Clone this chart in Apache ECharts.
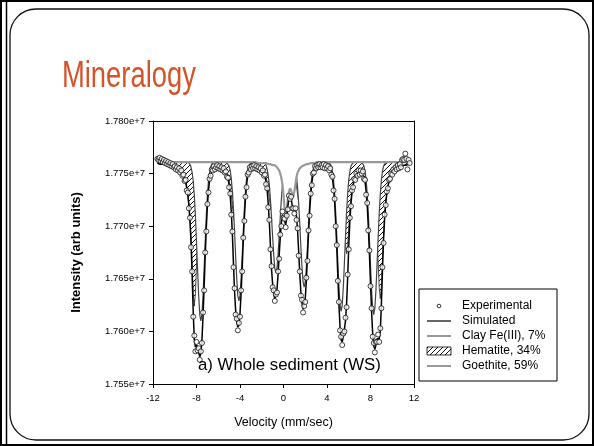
<!DOCTYPE html>
<html>
<head>
<meta charset="utf-8">
<script src="https://cdn.jsdelivr.net/npm/echarts@6/dist/echarts.min.js"></script>
<style>
  html, body { margin: 0; padding: 0; background: #fff; }
  #chart { width: 594px; height: 446px; }
</style>
</head>
<body>
<div id="chart"></div>
<script>
// Mossbauer spectrum of the whole sediment: velocity channels (mm/s)
const velocity = [
  -11.6,-11.5,-11.4,-11.3,-11.2,-11.1,-11,-10.9,-10.8,-10.7,
  -10.6,-10.5,-10.4,-10.3,-10.2,-10.1,-10,-9.9,-9.8,-9.7,
  -9.6,-9.5,-9.4,-9.3,-9.2,-9.1,-9,-8.9,-8.8,-8.7,
  -8.6,-8.5,-8.4,-8.3,-8.2,-8.1,-8,-7.9,-7.8,-7.7,
  -7.6,-7.5,-7.4,-7.3,-7.2,-7.1,-7,-6.9,-6.8,-6.7,
  -6.6,-6.5,-6.4,-6.3,-6.2,-6.1,-6,-5.9,-5.8,-5.7,
  -5.6,-5.5,-5.4,-5.3,-5.2,-5.1,-5,-4.9,-4.8,-4.7,
  -4.6,-4.5,-4.4,-4.3,-4.2,-4.1,-4,-3.9,-3.8,-3.7,
  -3.6,-3.5,-3.4,-3.3,-3.2,-3.1,-3,-2.9,-2.8,-2.7,
  -2.6,-2.5,-2.4,-2.3,-2.2,-2.1,-2,-1.9,-1.8,-1.7,
  -1.6,-1.5,-1.4,-1.3,-1.2,-1.1,-1,-0.9,-0.8,-0.7,
  -0.6,-0.5,-0.4,-0.3,-0.2,-0.1,0,0.1,0.2,0.3,
  0.4,0.5,0.6,0.7,0.8,0.9,1,1.1,1.2,1.3,
  1.4,1.5,1.6,1.7,1.8,1.9,2,2.1,2.2,2.3,
  2.4,2.5,2.6,2.7,2.8,2.9,3,3.1,3.2,3.3,
  3.4,3.5,3.6,3.7,3.8,3.9,4,4.1,4.2,4.3,
  4.4,4.5,4.6,4.7,4.8,4.9,5,5.1,5.2,5.3,
  5.4,5.5,5.6,5.7,5.8,5.9,6,6.1,6.2,6.3,
  6.4,6.5,6.6,6.7,6.8,6.9,7,7.1,7.2,7.3,
  7.4,7.5,7.6,7.7,7.8,7.9,8,8.1,8.2,8.3,
  8.4,8.5,8.6,8.7,8.8,8.9,9,9.1,9.2,9.3,
  9.4,9.5,9.6,9.7,9.8,9.9,10,10.1,10.2,10.3,
  10.4,10.5,10.6,10.7,10.8,10.9,11,11.1,11.2,11.3,
  11.4,11.5,11.6
];

// Intensities in thousands of counts (17761 = 1.7761e+7)
const experimental = [
  17764,17763,17765,17762,17764,17761,17763,17760,17762,17759,
  17761,17758,17760,17757,17759,17756,17757,17754,17756,17753,
  17755,17751,17753,17748,17749,17743,17744,17734,17732,17717,
  17708,17680,17657,17614,17596,17581,17590,17582,17584,17573,
  17581,17589,17618,17639,17675,17695,17721,17732,17745,17748,
  17754,17753,17757,17754,17756,17758,17755,17757,17754,17756,
  17753,17755,17751,17752,17747,17746,17737,17731,17711,17695,
  17661,17641,17616,17612,17601,17608,17614,17639,17657,17689,
  17705,17728,17737,17749,17751,17756,17754,17757,17755,17758,
  17755,17757,17754,17756,17753,17755,17751,17753,17748,17749,
  17740,17736,17718,17706,17678,17662,17642,17639,17629,17635,
  17637,17657,17669,17692,17700,17714,17708,17707,17699,17710,
  17716,17729,17726,17728,17717,17717,17712,17717,17706,17698,
  17672,17657,17634,17630,17618,17624,17628,17651,17667,17696,
  17710,17731,17739,17750,17751,17757,17755,17758,17756,17759,
  17756,17758,17756,17759,17755,17758,17755,17757,17753,17755,
  17749,17747,17734,17726,17700,17682,17648,17628,17601,17595,
  17587,17598,17600,17613,17623,17654,17678,17708,17719,17734,
  17737,17745,17744,17750,17748,17753,17749,17753,17750,17752,
  17745,17744,17730,17722,17696,17677,17643,17622,17595,17589,
  17580,17590,17590,17597,17590,17603,17622,17661,17684,17711,
  17720,17733,17736,17744,17745,17750,17749,17754,17752,17756,
  17754,17758,17755,17759,17756,17763,17764,17763,17769,17764,
  17754,17763,17760
];

const simulated = [
  17760,17759,17759,17759,17759,17759,17759,17759,17759,17759,
  17758,17758,17758,17758,17757,17757,17756,17756,17755,17755,
  17754,17753,17752,17750,17748,17745,17742,17737,17730,17720,
  17705,17684,17653,17618,17592,17585,17587,17585,17580,17576,
  17579,17592,17614,17642,17672,17698,17719,17734,17743,17749,
  17752,17754,17755,17755,17755,17756,17756,17755,17755,17755,
  17754,17754,17753,17751,17749,17745,17739,17729,17714,17692,
  17664,17638,17620,17609,17604,17606,17617,17636,17660,17686,
  17708,17726,17739,17747,17752,17755,17755,17756,17756,17756,
  17756,17756,17756,17755,17755,17754,17753,17752,17750,17747,
  17742,17734,17721,17703,17681,17659,17645,17636,17631,17632,
  17640,17654,17672,17689,17703,17711,17711,17705,17701,17708,
  17719,17727,17729,17726,17720,17715,17715,17715,17709,17695,
  17675,17654,17637,17627,17621,17622,17631,17648,17670,17693,
  17713,17729,17741,17748,17752,17755,17756,17757,17757,17757,
  17757,17757,17757,17757,17757,17757,17756,17756,17755,17754,
  17751,17745,17737,17723,17703,17679,17651,17625,17604,17592,
  17590,17595,17602,17610,17626,17651,17681,17705,17721,17732,
  17739,17743,17746,17748,17750,17751,17751,17751,17751,17750,
  17747,17742,17733,17719,17699,17674,17646,17619,17598,17586,
  17583,17587,17593,17594,17593,17600,17625,17658,17687,17708,
  17722,17731,17738,17742,17746,17748,17750,17752,17753,17754,
  17755,17755,17756,17756,17757,17757,17758,17758,17758,17758,
  17758,17759,17759
];

const clayFe = [
  17761,17761,17761,17761,17761,17761,17761,17761,17761,17761,
  17761,17761,17761,17761,17761,17761,17761,17761,17761,17761,
  17761,17761,17761,17761,17761,17761,17761,17761,17761,17761,
  17761,17761,17761,17761,17761,17761,17761,17761,17761,17761,
  17761,17761,17761,17761,17761,17761,17761,17761,17761,17761,
  17761,17761,17761,17761,17761,17761,17761,17761,17761,17761,
  17761,17761,17761,17761,17761,17761,17761,17761,17761,17761,
  17761,17761,17761,17761,17761,17761,17761,17761,17761,17761,
  17761,17761,17761,17761,17761,17761,17761,17761,17761,17761,
  17761,17760,17760,17760,17760,17760,17760,17760,17760,17760,
  17760,17760,17759,17759,17759,17759,17758,17758,17758,17757,
  17756,17755,17753,17750,17746,17740,17730,17717,17710,17715,
  17726,17733,17736,17734,17730,17728,17733,17740,17747,17751,
  17753,17755,17756,17757,17758,17758,17759,17759,17759,17759,
  17760,17760,17760,17760,17760,17760,17760,17761,17761,17761,
  17761,17761,17761,17761,17761,17761,17761,17761,17761,17761,
  17761,17761,17761,17761,17761,17761,17761,17761,17761,17761,
  17761,17761,17761,17761,17761,17761,17761,17761,17761,17761,
  17761,17761,17761,17761,17761,17761,17761,17761,17761,17761,
  17761,17761,17761,17761,17761,17761,17761,17761,17761,17761,
  17761,17761,17761,17761,17761,17761,17761,17761,17761,17761,
  17761,17761,17761,17761,17761,17761,17761,17761,17761,17761,
  17761,17761,17761,17761,17761,17761,17761,17761,17761,17761,
  17761,17761,17761
];

const hematite = [
  17760,17759,17759,17759,17759,17759,17759,17759,17759,17759,
  17758,17758,17758,17758,17757,17757,17756,17756,17755,17755,
  17754,17753,17752,17750,17748,17745,17742,17737,17730,17721,
  17707,17688,17663,17636,17624,17636,17663,17688,17707,17721,
  17730,17737,17741,17745,17747,17749,17751,17752,17753,17754,
  17754,17755,17755,17755,17755,17756,17756,17755,17755,17755,
  17754,17754,17753,17751,17750,17747,17743,17738,17730,17720,
  17709,17704,17709,17720,17730,17738,17743,17747,17750,17752,
  17753,17754,17755,17755,17756,17756,17756,17757,17757,17757,
  17757,17756,17756,17756,17755,17755,17754,17753,17751,17749,
  17746,17742,17735,17727,17718,17714,17718,17727,17735,17742,
  17746,17749,17751,17753,17754,17754,17755,17755,17755,17755,
  17755,17755,17754,17753,17752,17750,17747,17743,17738,17730,
  17723,17719,17723,17730,17738,17744,17748,17750,17752,17754,
  17755,17756,17756,17757,17757,17757,17757,17757,17758,17758,
  17758,17758,17757,17757,17757,17757,17757,17757,17756,17756,
  17755,17755,17754,17753,17752,17750,17748,17745,17741,17735,
  17726,17714,17698,17682,17674,17682,17698,17714,17726,17734,
  17740,17744,17746,17748,17750,17751,17751,17752,17752,17752,
  17752,17751,17751,17750,17748,17747,17744,17741,17737,17731,
  17722,17709,17691,17667,17642,17631,17642,17667,17691,17710,
  17722,17731,17738,17742,17746,17748,17750,17752,17753,17754,
  17755,17755,17756,17756,17757,17757,17758,17758,17758,17758,
  17758,17759,17759
];

const goethite = [
  17761,17761,17761,17761,17761,17761,17761,17761,17761,17761,
  17761,17761,17761,17761,17761,17761,17761,17761,17761,17761,
  17761,17761,17761,17761,17761,17761,17761,17761,17761,17760,
  17759,17756,17751,17743,17729,17710,17685,17659,17634,17616,
  17610,17616,17634,17659,17685,17710,17729,17743,17751,17756,
  17759,17760,17761,17761,17761,17761,17761,17761,17761,17761,
  17761,17761,17761,17761,17760,17759,17757,17753,17745,17733,
  17716,17695,17671,17650,17634,17629,17634,17650,17671,17695,
  17716,17733,17745,17753,17757,17759,17760,17761,17761,17761,
  17761,17761,17761,17761,17761,17761,17761,17761,17760,17760,
  17758,17754,17748,17739,17725,17708,17690,17673,17660,17656,
  17660,17673,17690,17708,17725,17739,17748,17754,17758,17760,
  17760,17761,17761,17761,17760,17759,17757,17753,17747,17736,
  17721,17701,17680,17661,17647,17642,17647,17661,17680,17701,
  17721,17736,17747,17753,17757,17759,17760,17761,17761,17761,
  17761,17761,17761,17761,17761,17761,17761,17761,17760,17759,
  17757,17752,17744,17731,17713,17690,17665,17642,17625,17619,
  17625,17642,17665,17690,17713,17731,17744,17752,17757,17759,
  17760,17761,17761,17761,17761,17761,17761,17761,17760,17759,
  17757,17752,17744,17730,17712,17688,17663,17639,17622,17616,
  17622,17639,17663,17688,17712,17730,17744,17752,17757,17759,
  17760,17761,17761,17761,17761,17761,17761,17761,17761,17761,
  17761,17761,17761,17761,17761,17761,17761,17761,17761,17761,
  17761,17761,17761
];

const legendLabels = ['Experimental', 'Simulated', 'Clay Fe(III), 7%', 'Hematite, 34%', 'Goethite, 59%'];
const FONT = "'Liberation Sans', Arial, Helvetica, sans-serif";

function pairs(values) {
  return velocity.map((v, i) => [v, values[i]]);
}

// diagonal hatch tile used for the hematite area
function hatchTile() {
  const s = 5;
  const c = document.createElement('canvas');
  c.width = s; c.height = s;
  const g = c.getContext('2d');
  g.strokeStyle = '#111';
  g.lineWidth = 1;
  g.beginPath();
  g.moveTo(-1, s + 1); g.lineTo(s + 1, -1);
  g.moveTo(-1, 1); g.lineTo(1, -1);
  g.moveTo(s - 1, s + 1); g.lineTo(s + 1, s - 1);
  g.stroke();
  return c;
}
const hatch = { image: hatchTile(), repeat: 'repeat' };

const chart = echarts.init(document.getElementById('chart'), null, { renderer: 'canvas' });

const legendX = 427, legendTextX = 462;
const rowY = [306, 321, 336, 351, 366];

chart.setOption({
  animation: false,
  backgroundColor: '#fff',
  grid: { left: 153, right: 180, top: 121, bottom: 62, containLabel: false },
  xAxis: [{
    type: 'value', min: -12, max: 12, interval: 4, z: 10,
    name: 'Velocity (mm/sec)', nameLocation: 'middle', nameGap: 32,
    nameTextStyle: { fontFamily: FONT, fontSize: 12.5, color: '#000' },
    axisLine: { onZero: false, lineStyle: { color: '#000', width: 1 } },
    axisTick: { length: 4, lineStyle: { color: '#000' } },
    axisLabel: { fontFamily: FONT, fontSize: 9.5, color: '#000', margin: 9 },
    splitLine: { show: false }
  }, {
    type: 'value', min: -12, max: 12, position: 'top', z: 10,
    axisLine: { onZero: false, lineStyle: { color: '#000', width: 1 } },
    axisTick: { show: false }, axisLabel: { show: false }, splitLine: { show: false }
  }],
  yAxis: [{
    type: 'value', min: 17550, max: 17800, interval: 50, z: 10, position: 'left',
    name: 'Intensity (arb units)', nameLocation: 'middle', nameGap: 70, nameRotate: 90,
    nameTextStyle: { fontFamily: FONT, fontSize: 13, fontWeight: 'bold', color: '#000' },
    axisLine: { show: true, onZero: false, lineStyle: { color: '#000', width: 1 } },
    axisTick: { show: true, length: 4, lineStyle: { color: '#000' } },
    axisLabel: {
      fontFamily: FONT, fontSize: 9.5, color: '#000', margin: 8,
      formatter: v => (v / 10000).toFixed(3) + 'e+7'
    },
    splitLine: { show: false }
  }, {
    type: 'value', min: 17550, max: 17800, position: 'right', z: 10,
    axisLine: { show: true, onZero: false, lineStyle: { color: '#000', width: 1 } },
    axisTick: { show: false }, axisLabel: { show: false }, splitLine: { show: false }
  }],
  series: [
    {
      name: legendLabels[3], type: 'line', data: pairs(hematite), z: 2,
      symbol: 'none', lineStyle: { color: '#333', width: 0.9 },
      areaStyle: { origin: 'end', color: hatch, opacity: 1 }
    },
    {
      name: legendLabels[4], type: 'line', data: pairs(goethite), z: 3,
      symbol: 'none', lineStyle: { color: '#444', width: 1.2 },
      areaStyle: { origin: 'end', color: '#fff', opacity: 1 }
    },
    {
      name: legendLabels[2], type: 'line', data: pairs(clayFe), z: 4,
      symbol: 'none', lineStyle: { color: '#999', width: 2.2 },
      areaStyle: { origin: 'end', color: '#fff', opacity: 1 }
    },
    {
      name: legendLabels[1], type: 'line', data: pairs(simulated), z: 5,
      symbol: 'none', lineStyle: { color: '#000', width: 1.5 }
    },
    {
      name: legendLabels[0], type: 'scatter', data: pairs(experimental), z: 6,
      symbol: 'circle', symbolSize: 5,
      itemStyle: { color: '#fff', borderColor: '#111', borderWidth: 1 }
    }
  ],
  graphic: [
    // slide frame
    { type: 'rect', z: 1, shape: { x: 1, y: 1, width: 592, height: 444 },
      style: { fill: 'none', stroke: '#000', lineWidth: 2 } },
    { type: 'line', z: 1, shape: { x1: 6.5, y1: 0, x2: 6.5, y2: 446 },
      style: { stroke: '#000', lineWidth: 1.5 } },
    { type: 'rect', z: 1, shape: { x: 10, y: 9, width: 579, height: 431, r: 26 },
      style: { fill: 'none', stroke: '#111', lineWidth: 1.3 } },
    // slide title
    { type: 'text', z: 20, x: 62, y: 59, scaleX: 0.76,
      style: { text: 'Mineralogy', x: 0, y: 0, font: '36px ' + FONT, fill: '#d4542a',
               align: 'left', verticalAlign: 'top' } },
    // panel caption
    { type: 'text', z: 20, x: 198, y: 357,
      style: { text: 'a) Whole sediment (WS)', x: 0, y: 0, font: '16.8px ' + FONT, fill: '#000',
               align: 'left', verticalAlign: 'top' } },
    // legend box
    { type: 'rect', z: 20, shape: { x: 419, y: 289, width: 138, height: 92 },
      style: { fill: '#fff', stroke: '#000', lineWidth: 1 } },
    { type: 'circle', z: 21, shape: { cx: 439, cy: rowY[0], r: 1.8 },
      style: { fill: '#fff', stroke: '#222', lineWidth: 0.9 } },
    { type: 'line', z: 21, shape: { x1: legendX, y1: rowY[1], x2: 451, y2: rowY[1] },
      style: { stroke: '#000', lineWidth: 1.2 } },
    { type: 'line', z: 21, shape: { x1: legendX, y1: rowY[2], x2: 451, y2: rowY[2] },
      style: { stroke: '#999', lineWidth: 2 } },
    { type: 'rect', z: 21, shape: { x: legendX, y: rowY[3] - 4, width: 24, height: 8 },
      style: { fill: hatch, stroke: '#000', lineWidth: 0.8 } },
    { type: 'line', z: 21, shape: { x1: legendX, y1: rowY[4], x2: 451, y2: rowY[4] },
      style: { stroke: '#555', lineWidth: 1.2 } }
  ].concat(legendLabels.map((t, i) => ({
    type: 'text', z: 21, x: legendTextX, y: rowY[i],
    style: { text: t, x: 0, y: 0, font: '12px ' + FONT, fill: '#000',
             align: 'left', verticalAlign: 'middle' }
  })))
});
</script>
</body>
</html>
